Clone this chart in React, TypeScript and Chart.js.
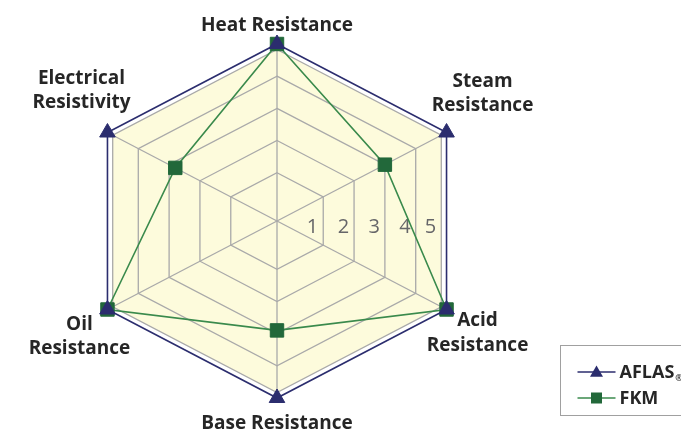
import React, { useEffect, useRef } from 'react';
import { Chart, registerables } from 'chart.js';

Chart.register(...registerables);

// ---- data ----
const CATEGORIES: string[][] = [
  ['Heat Resistance'],
  ['Steam', 'Resistance'],
  ['Acid', 'Resistance'],
  ['Base Resistance'],
  ['Oil', 'Resistance'],
  ['Electrical', 'Resistivity'],
];
const SERIES_NAMES = ['AFLAS', 'FKM'];
const AFLAS_VALUES = [5, 5, 5, 5, 5, 5];
const FKM_VALUES = [5, 3, 5, 2.9, 5, 2.8];
const TICK_LABELS = ['1', '2', '3', '4', '5'];
const RING_VALUES = [1, 2, 3, 4, 4.83];
const SCALE_MIN = -0.5;
const SCALE_MAX = 5;

// ---- styling ----
const NAVY = '#2b2d6e';
const GREEN_LINE = '#3a8a4c';
const GREEN_POINT = '#22683a';
const GRID = '#a9a9a9';
const FILL = '#fdfbdc';
const TEXT = '#262626';
const TICK_TEXT = '#666669';
const SX = 1.106; // horizontal stretch of the web
const LABEL_FONT = 'bold 19px "Open Sans", "Noto Sans", sans-serif';
const LINE_H = 24.5;
// first-line baseline offsets from each outer vertex
const LABEL_OFFSETS: [number, number][] = [
  [0, -13],
  [36, -46],
  [31, 16.5],
  [0, 31],
  [-28, 20],
  [-26, -49],
];

const stretchPlugin = {
  id: 'stretchWeb',
  afterLayout(chart: any) {
    const s = chart.scales.r;
    if (!s || s.__stretched) return;
    const orig = s.getPointPosition.bind(s);
    s.getPointPosition = (i: number, d: number, a: number = 0) => {
      const p = orig(i, d, a);
      return { x: s.xCenter + (p.x - s.xCenter) * SX, y: p.y, angle: p.angle };
    };
    s.__stretched = true;
  },
};

const backgroundPlugin = {
  id: 'webBackground',
  beforeDraw(chart: any) {
    const s = chart.scales.r;
    const ctx = chart.ctx;
    const d = s.getDistanceFromCenterForValue(RING_VALUES[RING_VALUES.length - 1]);
    ctx.save();
    ctx.beginPath();
    for (let i = 0; i < CATEGORIES.length; i++) {
      const p = s.getPointPosition(i, d);
      if (i === 0) ctx.moveTo(p.x, p.y);
      else ctx.lineTo(p.x, p.y);
    }
    ctx.closePath();
    ctx.fillStyle = FILL;
    ctx.fill();
    ctx.restore();
  },
};

const tickPlugin = {
  id: 'horizontalTicks',
  beforeDatasetsDraw(chart: any) {
    const s = chart.scales.r;
    const ctx = chart.ctx;
    ctx.save();
    ctx.font = '20px "Open Sans", "Noto Sans", sans-serif';
    ctx.fillStyle = TICK_TEXT;
    ctx.textAlign = 'right';
    ctx.textBaseline = 'alphabetic';
    TICK_LABELS.forEach((t, k) => {
      const d = s.getDistanceFromCenterForValue(RING_VALUES[k]);
      const p = s.getPointPosition(1, d);
      ctx.fillText(t, p.x - 5, s.yCenter + 12);
    });
    ctx.restore();
  },
};

const labelPlugin = {
  id: 'pointLabelsCustom',
  afterDraw(chart: any) {
    const s = chart.scales.r;
    const ctx = chart.ctx;
    ctx.save();
    ctx.font = LABEL_FONT;
    ctx.fillStyle = TEXT;
    ctx.textAlign = 'center';
    ctx.textBaseline = 'alphabetic';
    CATEGORIES.forEach((lines, i) => {
      const p = s.getPointPosition(i, s.getDistanceFromCenterForValue(SCALE_MAX));
      const [dx, dy] = LABEL_OFFSETS[i];
      lines.forEach((ln, k) => ctx.fillText(ln, p.x + dx, p.y + dy + k * LINE_H));
    });
    ctx.restore();
  },
};

function drawTriangle(ctx: CanvasRenderingContext2D, x: number, y: number, r: number) {
  ctx.beginPath();
  ctx.moveTo(x, y - r);
  ctx.lineTo(x + r * Math.sin((2 * Math.PI) / 3), y + r / 2);
  ctx.lineTo(x - r * Math.sin((2 * Math.PI) / 3), y + r / 2);
  ctx.closePath();
  ctx.fill();
}

const legendPlugin = {
  id: 'boxLegend',
  afterDraw(chart: any) {
    const ctx = chart.ctx;
    const left = 560.5;
    const top = 345.5;
    ctx.save();
    ctx.strokeStyle = '#a0a0a0';
    ctx.lineWidth = 1;
    ctx.strokeRect(left, top, 160, 70);
    const rows = [
      { y: 372, color: NAVY, pcolor: NAVY, tri: true, name: SERIES_NAMES[0] },
      { y: 398, color: GREEN_LINE, pcolor: GREEN_POINT, tri: false, name: SERIES_NAMES[1] },
    ];
    rows.forEach((r) => {
      ctx.strokeStyle = r.color;
      ctx.lineWidth = 1.6;
      ctx.beginPath();
      ctx.moveTo(left + 17, r.y);
      ctx.lineTo(left + 55, r.y);
      ctx.stroke();
      ctx.fillStyle = r.pcolor;
      if (r.tri) drawTriangle(ctx, left + 36, r.y + 1, 7.5);
      else ctx.fillRect(left + 36 - 5.5, r.y - 5.5, 11, 11);
      ctx.fillStyle = TEXT;
      ctx.font = 'bold 18px "Open Sans", "Noto Sans", sans-serif';
      ctx.textAlign = 'left';
      ctx.textBaseline = 'alphabetic';
      ctx.fillText(r.name, left + 59, r.y + 6);
      if (r.tri) {
        const w = ctx.measureText(r.name).width;
        ctx.font = 'bold 9px "Open Sans", "Noto Sans", sans-serif';
        ctx.fillText('®', left + 59 + w + 1, r.y + 9);
      }
    });
    ctx.restore();
  },
};

export default function App() {
  const ref = useRef<HTMLCanvasElement | null>(null);
  useEffect(() => {
    if (!ref.current) return;
    const chart = new Chart(ref.current, {
      type: 'radar',
      data: {
        labels: CATEGORIES,
        datasets: [
          {
            label: SERIES_NAMES[0],
            data: AFLAS_VALUES,
            borderColor: NAVY,
            backgroundColor: NAVY,
            borderWidth: 1.6,
            fill: false,
            pointStyle: 'triangle',
            pointRadius: 9,
            pointBackgroundColor: NAVY,
            pointBorderColor: NAVY,
            pointBorderWidth: 1,
            clip: false,
          },
          {
            label: SERIES_NAMES[1],
            data: FKM_VALUES,
            borderColor: GREEN_LINE,
            backgroundColor: GREEN_POINT,
            borderWidth: 1.6,
            fill: false,
            pointStyle: 'rect',
            pointRadius: 9.5,
            pointBackgroundColor: GREEN_POINT,
            pointBorderColor: GREEN_POINT,
            pointBorderWidth: 1,
            clip: false,
          },
        ],
      } as any,
      options: {
        animation: false,
        responsive: false,
        layout: { padding: { left: 99, right: 226, top: 44, bottom: 31 } },
        elements: { line: { tension: 0 } },
        plugins: { legend: { display: false }, tooltip: { enabled: false } },
        scales: {
          r: {
            min: SCALE_MIN,
            max: SCALE_MAX,
            afterBuildTicks: (sc: any) => {
              sc.ticks = RING_VALUES.map((v) => ({ value: v }));
            },
            ticks: { display: false },
            pointLabels: { display: false },
            grid: { color: GRID, lineWidth: 1.3 },
            angleLines: { color: GRID, lineWidth: 1.3 },
          },
        },
      } as any,
      plugins: [stretchPlugin, backgroundPlugin, tickPlugin, labelPlugin, legendPlugin],
    });
    return () => chart.destroy();
  }, []);
  return (
    <div style={{ position: 'fixed', left: 0, top: 0, width: 681, height: 430, background: '#fff' }}>
      <canvas ref={ref} width={681} height={430} style={{ display: 'block' }} />
    </div>
  );
}
